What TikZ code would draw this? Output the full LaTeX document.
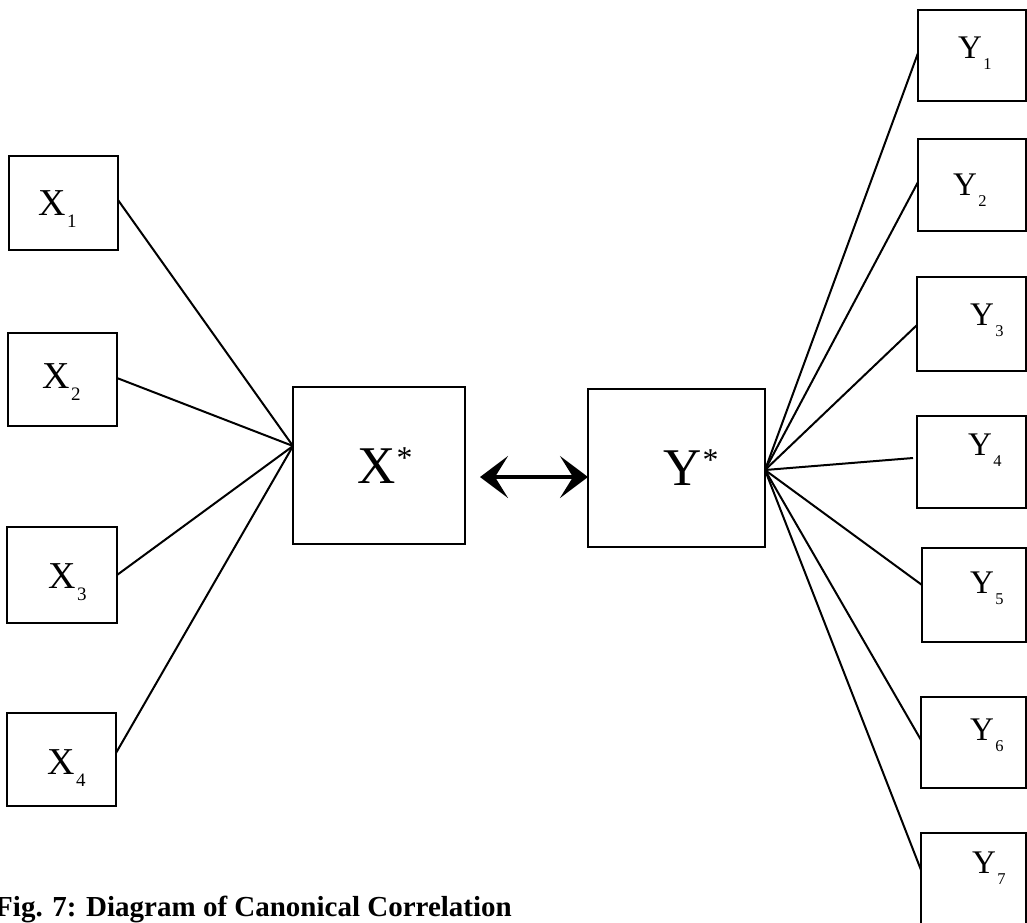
\documentclass[tikz,border=0pt]{standalone}
\usepackage{fontspec}
\setmainfont{Liberation Serif}
\usepackage{graphicx}
\usetikzlibrary{arrows.meta}
\newcommand\sbx[1]{\kern0.04em\raisebox{-0.34em}{\scalebox{0.5}{#1}}}
\newcommand\spx{\kern0.02em\raisebox{0.28em}{\scalebox{0.6}{*}}}
\tikzset{
  box/.style={draw, line width=2pt, inner sep=0pt, outer sep=0pt},
  conn/.style={line width=2pt},
  biarrow/.style={line width=4.5pt, {Stealth[length=28pt,width=42pt,inset=13pt]}-{Stealth[length=28pt,width=42pt,inset=13pt]}},
  xlab/.style={anchor=base west, inner sep=0pt, font=\fontsize{38}{40}\selectfont},
  ylab/.style={anchor=base west, inner sep=0pt, font=\fontsize{33}{35}\selectfont},
  starlab/.style={anchor=base west, inner sep=0pt, font=\fontsize{53}{55}\selectfont},
}
\begin{document}
\begin{tikzpicture}[x=1pt,y=-1pt]
\useasboundingbox (0,0) rectangle (1027,922);
% left boxes
\node[box, minimum width=109pt, minimum height=94pt] (x1) at (63.5,203) {};
\node[box, minimum width=109pt, minimum height=93pt] (x2) at (62.5,379.5) {};
\node[box, minimum width=110pt, minimum height=96pt] (x3) at (62,575) {};
\node[box, minimum width=109pt, minimum height=93pt] (x4) at (61.5,759.5) {};
% central boxes
\node[box, minimum width=172pt, minimum height=157pt] (xs) at (379,465.5) {};
\node[box, minimum width=177pt, minimum height=158pt] (ys) at (676.5,468) {};
% right boxes
\node[box, minimum width=108pt, minimum height=91pt] (y1) at (972,55.5) {};
\node[box, minimum width=108pt, minimum height=92pt] (y2) at (972,185) {};
\node[box, minimum width=109pt, minimum height=94pt] (y3) at (971.5,324) {};
\node[box, minimum width=109pt, minimum height=92pt] (y4) at (971.5,462) {};
\node[box, minimum width=104pt, minimum height=94pt] (y5) at (974,595) {};
\node[box, minimum width=105pt, minimum height=91pt] (y6) at (973.5,742.5) {};
\node[box, minimum width=105pt, minimum height=95pt] (y7) at (973.5,880.5) {};
% labels
\node[xlab] (lx1) at (38,215) {X\sbx{1}};
\node[xlab] (lx2) at (42,388) {X\sbx{2}};
\node[xlab] (lx3) at (48,588) {X\sbx{3}};
\node[xlab] (lx4) at (47,774) {X\sbx{4}};
\node[starlab] (lxs) at (357,483) {X\spx};
\node[starlab] (lys) at (663,485) {Y\spx};
\node[ylab] (ly1) at (958,58) {Y\sbx{1}};
\node[ylab] (ly2) at (953,195) {Y\sbx{2}};
\node[ylab] (ly3) at (970,325) {Y\sbx{3}};
\node[ylab] (ly4) at (968,455) {Y\sbx{4}};
\node[ylab] (ly5) at (970,593) {Y\sbx{5}};
\node[ylab] (ly6) at (970,740) {Y\sbx{6}};
\node[ylab] (ly7) at (972,873) {Y\sbx{7}};
% convergence points
\coordinate (xc) at ([yshift=19.5pt]xs.west);
\coordinate (yc) at ([yshift=-2pt]ys.east);
% left connectors
\draw[conn] ([yshift=3pt]x1.east) -- (xc);
\draw[conn] ([yshift=1.5pt]x2.east) -- (xc);
\draw[conn] (x3.east) -- (xc);
\draw[conn] ([yshift=6.5pt]x4.east) -- (xc);
% right connectors
\draw[conn] (yc) -- ([yshift=2.5pt]y1.west);
\draw[conn] (yc) -- ([yshift=3pt]y2.west);
\draw[conn] (yc) -- ([yshift=-1pt]y3.west);
\draw[conn] (yc) -- ([xshift=-4pt,yshift=4pt]y4.west);
\draw[conn] (yc) -- ([yshift=10pt]y5.west);
\draw[conn] (yc) -- ([yshift=2.5pt]y6.west);
\draw[conn] (yc) -- ([yshift=10.5pt]y7.west);
% double arrow
\draw[biarrow] ([xshift=15pt,yshift=-11.5pt]xs.east) -- ([yshift=-9pt]ys.west);
% caption
\node[anchor=base east, inner sep=0pt, font=\bfseries\fontsize{29}{31}\selectfont] (cap) at (512,916) {Fig. 7: Diagram of Canonical Correlation};
\end{tikzpicture}
\end{document}
